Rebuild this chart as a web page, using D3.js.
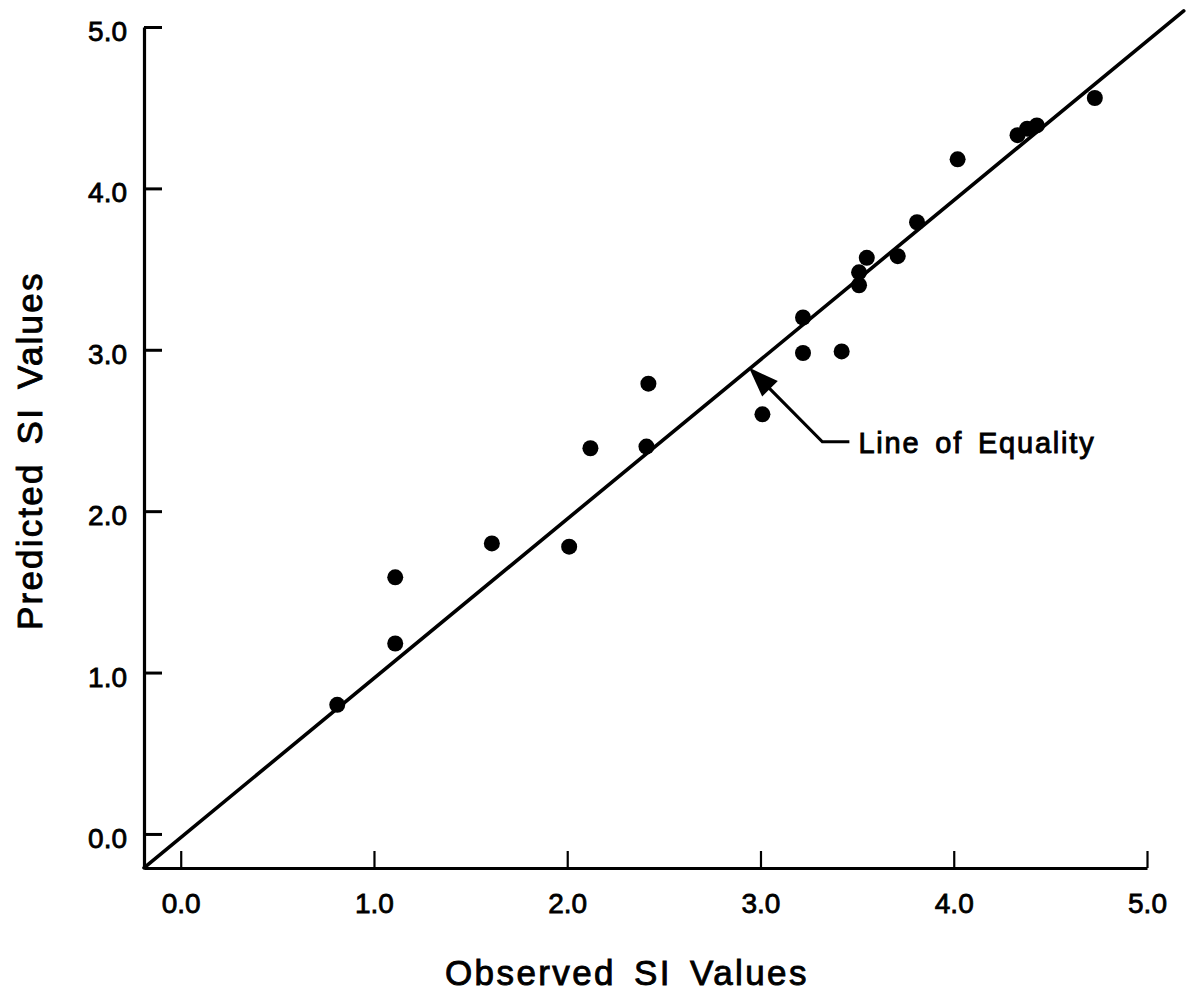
<!DOCTYPE html>
<html>
<head>
<meta charset="utf-8">
<title>Observed vs Predicted SI Values</title>
<script src="https://cdn.jsdelivr.net/npm/d3@7/dist/d3.min.js"></script>
<style>
    html, body { margin: 0; padding: 0; background: #fff; }
    svg { display: block; }
    .axis path, .axis line { stroke: #000; }
    .axis text { fill: #000; stroke: #000; stroke-width: 0.8px; }
    .label { fill: #000; stroke: #000; stroke-width: 0.9px; }
</style>
</head>
<body>
<svg id="chart"></svg>
<script>
"use strict";

// values
var observed  = [0.81, 1.11, 1.11, 1.61, 2.01, 2.12, 2.41, 2.42, 3.01, 3.22, 3.22,
                 3.42, 3.51, 3.51, 3.55, 3.71, 3.81, 4.02, 4.33, 4.38, 4.43, 4.73];
var predicted = [0.80, 1.59, 1.18, 1.80, 1.78, 2.39, 2.40, 2.79, 2.60, 3.20, 2.98,
                 2.99, 3.40, 3.48, 3.57, 3.58, 3.79, 4.18, 4.33, 4.37, 4.39, 4.56];

var tickValues = [0, 1, 2, 3, 4, 5];
var tickLabels = ['0.0', '1.0', '2.0', '3.0', '4.0', '5.0'];

// line of equality, end points in data units
var equalityX = [-0.19, 5.19];
var equalityY = [-0.21, 5.10];

var annotationText = 'Line of Equality';
// arrow: tip on the line, elbow, end of the short leader (data units)
var annotationX = [2.94, 3.32, 3.46];
var annotationY = [2.89, 2.43, 2.43];

var width = 1187;
var height = 995;
var fontFamily = '"Liberation Sans", Arial, Helvetica, sans-serif';

var svg = d3.select('#chart')
    .attr('width', width)
    .attr('height', height);

var x = d3.scaleLinear()
    .domain([-0.19, 5])
    .range([144, 1147]);

var y = d3.scaleLinear()
    .domain([-0.211, 5])
    .range([868, 27]);

function tickFormat(d) {
    return tickLabels[tickValues.indexOf(d)];
}

// axes
var xAxis = d3.axisBottom(x)
    .tickValues(tickValues)
    .tickFormat(tickFormat)
    .tickSizeInner(-17)
    .tickSizeOuter(0)
    .tickPadding(25);

var yAxis = d3.axisLeft(y)
    .tickValues(tickValues)
    .tickFormat(tickFormat)
    .tickSizeInner(-18)
    .tickSizeOuter(0)
    .tickPadding(17);

var gx = svg.append('g')
    .attr('class', 'axis axis--x')
    .attr('transform', 'translate(0,' + y.range()[0] + ')')
    .call(xAxis);

gx.select('.domain').attr('stroke-width', 3);
gx.selectAll('.tick line').attr('stroke-width', 2.2);
gx.selectAll('.tick text')
    .attr('font-family', fontFamily)
    .attr('font-size', 28);

var gy = svg.append('g')
    .attr('class', 'axis axis--y')
    .attr('transform', 'translate(' + x.range()[0] + ',0)')
    .call(yAxis);

gy.select('.domain').attr('stroke-width', 3.2);
gy.selectAll('.tick line').attr('stroke-width', 3);
gy.selectAll('.tick text')
    .attr('font-family', fontFamily)
    .attr('font-size', 28)
    .attr('dy', '0.48em');

svg.selectAll('.axis').attr('font-family', null);

// line of equality
var equality = d3.line()
    .x(function(d) { return x(d[0]); })
    .y(function(d) { return y(d[1]); });

svg.append('path')
    .attr('class', 'equality')
    .datum(d3.zip(equalityX, equalityY))
    .attr('d', equality)
    .attr('fill', 'none')
    .attr('stroke', '#000')
    .attr('stroke-width', 3.6)
    .attr('stroke-linecap', 'round');

// points
svg.append('g')
    .attr('class', 'points')
    .selectAll('circle')
    .data(d3.zip(observed, predicted))
    .enter()
    .append('circle')
    .attr('cx', function(d) { return x(d[0]); })
    .attr('cy', function(d) { return y(d[1]); })
    .attr('r', 8)
    .attr('fill', '#000');

// annotation arrow
var arrowPts = d3.zip(annotationX, annotationY).map(function(d) {
    return [x(d[0]), y(d[1])];
});

var tip = arrowPts[0];
var dx = arrowPts[1][0] - tip[0];
var dy = arrowPts[1][1] - tip[1];
var len = Math.sqrt(dx * dx + dy * dy);
var ux = dx / len, uy = dy / len;
var headLength = 30, headHalf = 11;
var bx = tip[0] + ux * headLength, by = tip[1] + uy * headLength;

svg.append('path')
    .attr('class', 'arrow-shaft')
    .attr('d', d3.line()([[bx - ux * 4, by - uy * 4]].concat(arrowPts.slice(1))))
    .attr('fill', 'none')
    .attr('stroke', '#000')
    .attr('stroke-width', 3.2);

svg.append('path')
    .attr('class', 'arrow-head')
    .attr('d', 'M' + tip[0] + ',' + tip[1] +
        'L' + (bx - uy * headHalf) + ',' + (by + ux * headHalf) +
        'L' + (bx + uy * headHalf) + ',' + (by - ux * headHalf) + 'Z')
    .attr('fill', '#000');

var last = arrowPts[arrowPts.length - 1];

svg.append('text')
    .attr('class', 'label')
    .attr('x', last[0] + 9)
    .attr('y', last[1] + 11)
    .attr('font-family', fontFamily)
    .attr('font-size', 29)
    .attr('letter-spacing', 1.8)
    .attr('word-spacing', 5)
    .text(annotationText);

// axis titles
svg.append('text')
    .attr('class', 'label')
    .attr('x', 445)
    .attr('y', 985)
    .attr('font-family', fontFamily)
    .attr('font-size', 35)
    .attr('letter-spacing', 2.4)
    .attr('word-spacing', 6)
    .text('Observed SI Values');

svg.append('text')
    .attr('class', 'label')
    .attr('transform', 'translate(42,630) rotate(-90)')
    .attr('font-family', fontFamily)
    .attr('font-size', 35)
    .attr('letter-spacing', 2.2)
    .attr('word-spacing', 6)
    .text('Predicted SI Values');
</script>
</body>
</html>
